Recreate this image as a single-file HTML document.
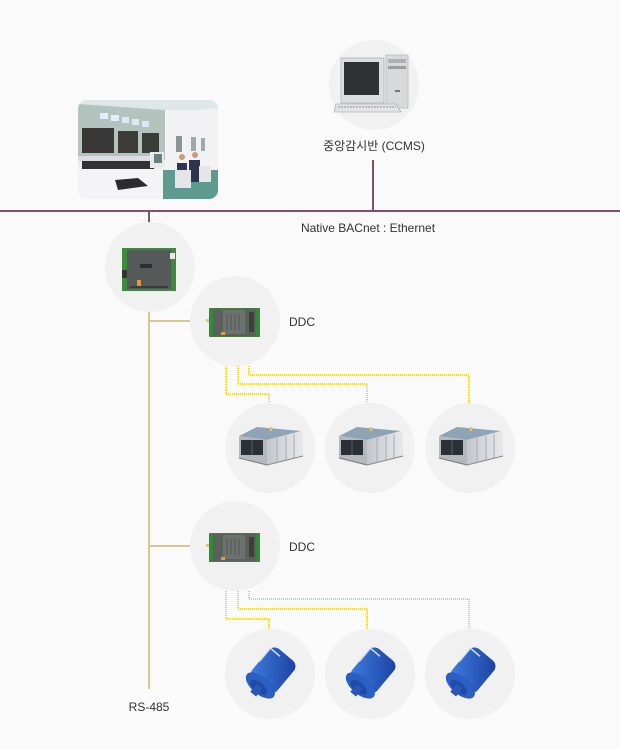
<!DOCTYPE html>
<html><head><meta charset="utf-8"><style>
html,body{margin:0;padding:0;background:#fafafa;}
svg{display:block;}
text{font-family:"Liberation Sans","Noto Sans CJK KR",sans-serif;font-size:12px;fill:#333;}
</style></head><body>
<svg width="620" height="750" viewBox="0 0 620 750" xmlns="http://www.w3.org/2000/svg">
<rect width="620" height="750" fill="#fafafa"/>
<defs>
<linearGradient id="sil" x1="0" y1="0" x2="1" y2="0"><stop offset="0" stop-color="#c4c8cd"/><stop offset="1" stop-color="#e6e8eb"/></linearGradient>
<linearGradient id="blu" x1="0" y1="0" x2="1" y2="1"><stop offset="0" stop-color="#3f7fe0"/><stop offset="1" stop-color="#1a3fa0"/></linearGradient>
<clipPath id="ph"><rect x="78" y="100" width="140" height="99" rx="9"/></clipPath>

<g id="ahu">
<polygon points="-32,-8 -14,-17 30,-13 -4,-4" fill="#8ea3b6"/>
<polygon points="-32,-8 -4,-4 -4,21 -32,14" fill="#b4b9be"/>
<rect x="-30" y="-4" width="22" height="15" fill="#2a3035"/>
<line x1="-19" y1="-4" x2="-19" y2="11" stroke="#5a6066" stroke-width="1"/>
<polygon points="-4,-4 30,-13 32,-11 32,12 -4,21" fill="url(#sil)"/>
<line x1="6" y1="-6" x2="6" y2="18" stroke="#a9adb2" stroke-width="1"/>
<line x1="15" y1="-8" x2="15" y2="16" stroke="#a9adb2" stroke-width="1"/>
<line x1="23" y1="-10" x2="23" y2="14" stroke="#a9adb2" stroke-width="1"/>
<line x1="-32" y1="14" x2="-4" y2="21" stroke="#777" stroke-width="1"/>
<line x1="-4" y1="21" x2="32" y2="12" stroke="#888" stroke-width="1"/>
<rect x="-1" y="-17" width="2" height="4" fill="#e8c64a"/>
</g>

<g id="mot">
<g transform="rotate(-50) scale(1.25)">
<rect x="-12" y="-13" width="32" height="26" rx="6" fill="url(#blu)"/>
<ellipse cx="-12" cy="0" rx="7" ry="14" fill="#2b5fc4"/>
<ellipse cx="-14" cy="0" rx="4" ry="8" fill="#1f4aa8"/>
<rect x="-21" y="-3" width="8" height="6" fill="#2a56b8"/>
<path d="M2,-13 L16,-13 L16,-3" stroke="#d7dde6" stroke-width="1.2" fill="none"/>
</g>
</g>

<g id="ddc">
<rect x="0" y="0" width="51" height="29" rx="1" fill="#4a7a3e"/>
<rect x="4" y="1" width="43" height="27" fill="#5a605c"/>
<rect x="14" y="2" width="22" height="24" fill="#6c726e"/>
<line x1="18" y1="6" x2="18" y2="22" stroke="#555" stroke-width="1"/>
<line x1="22" y1="6" x2="22" y2="22" stroke="#555" stroke-width="1"/>
<line x1="26" y1="6" x2="26" y2="22" stroke="#555" stroke-width="1"/>
<line x1="30" y1="6" x2="30" y2="22" stroke="#555" stroke-width="1"/>
<rect x="0" y="2" width="4" height="25" fill="#2f8a3a"/>
<rect x="47" y="2" width="4" height="25" fill="#2f8a3a"/>
<rect x="40" y="4" width="5" height="20" fill="#3c3f3d"/>
<rect x="12" y="24" width="4" height="3" fill="#e0a040"/>
</g>
</defs>

<!-- Ethernet lines -->
<line x1="0" y1="211" x2="620" y2="211" stroke="#8a4c6e" stroke-width="2"/>
<line x1="373" y1="160" x2="373" y2="211" stroke="#8a4c6e" stroke-width="2"/>
<line x1="149" y1="211" x2="149" y2="223" stroke="#8a4c6e" stroke-width="2"/>

<!-- RS-485 lines -->
<line x1="149" y1="312" x2="149" y2="689" stroke="#d5c891" stroke-width="2"/>
<line x1="149" y1="321" x2="191" y2="321" stroke="#d5c891" stroke-width="2"/>
<line x1="149" y1="546" x2="191" y2="546" stroke="#d5c891" stroke-width="2"/>

<!-- yellow dotted -->
<g fill="none" stroke="#f5d232" stroke-width="2" stroke-dasharray="1 1">
<polyline points="226,366 226,394 269,394 269,404"/>
<polyline points="238,366 238,384 367,384 367,404"/>
<polyline points="249,366 249,375 469,375 469,404"/>
<polyline points="226,591 226,619 269,619 269,629"/>
<polyline points="238,591 238,609 367,609 367,629"/>
<polyline points="249,591 249,599 469,599 469,629"/>
</g>

<!-- circles -->
<g fill="#f1f1f1">
<circle cx="374" cy="85" r="45"/>
<circle cx="150" cy="267" r="45"/>
<circle cx="235" cy="321" r="45"/>
<circle cx="270" cy="448" r="45"/>
<circle cx="370" cy="448" r="45"/>
<circle cx="470" cy="448" r="45"/>
<circle cx="235" cy="546" r="45"/>
<circle cx="270" cy="674" r="45"/>
<circle cx="370" cy="674" r="45"/>
<circle cx="470" cy="674" r="45"/>
</g>

<!-- computer -->
<rect x="386" y="55" width="22" height="53" fill="#d8d9db" stroke="#b9babd" stroke-width="0.8"/>
<rect x="388" y="59" width="18" height="4" fill="#aeb0b3"/>
<rect x="388" y="66" width="18" height="3" fill="#9a9c9f"/>
<rect x="395" y="90" width="5" height="2" fill="#777"/>
<rect x="341" y="58" width="43" height="45" fill="#dcdde0" stroke="#b0b2b5" stroke-width="0.8"/>
<rect x="344" y="62" width="35" height="33" fill="#2f3133"/>
<polygon points="353,103 373,103 378,108 348,108" fill="#c7c8cb"/>
<polygon points="336,104 396,104 401,112 334,112" fill="#e3e3e5" stroke="#9d9fa2" stroke-width="0.6"/>
<line x1="338" y1="107" x2="396" y2="107" stroke="#8d8f92" stroke-width="1" stroke-dasharray="2 1"/>

<!-- control room photo -->
<g clip-path="url(#ph)">
<rect x="78" y="100" width="140" height="99" fill="#eceef0"/>
<polygon points="78,100 218,100 218,108 170,112 78,104" fill="#dfe6e6"/>
<polygon points="78,104 165,110 165,160 78,158" fill="#b3c4be"/>
<rect x="165" y="110" width="53" height="60" fill="#f2f2f4"/>
<rect x="100" y="113" width="8" height="6" fill="#e4eef8"/>
<rect x="111" y="115" width="8" height="6" fill="#e4eef8"/>
<rect x="122" y="117" width="7" height="6" fill="#dbe8f6"/>
<rect x="132" y="119" width="7" height="6" fill="#dbe8f6"/>
<rect x="142" y="121" width="7" height="6" fill="#dbe8f6"/>
<rect x="82" y="128" width="32" height="25" fill="#3a3836"/>
<rect x="118" y="131" width="20" height="22" fill="#3c3d39"/>
<rect x="142" y="133" width="17" height="20" fill="#3a3c38"/>
<rect x="176" y="136" width="6" height="16" fill="#8a9593"/>
<rect x="191" y="137" width="5" height="14" fill="#a0aaa8"/>
<rect x="201" y="138" width="4" height="13" fill="#a0aaa8"/>
<rect x="78" y="156" width="82" height="5" fill="#dcdde0"/>
<rect x="82" y="161" width="72" height="8" fill="#333336"/>
<rect x="160" y="170" width="58" height="29" fill="#5f9a90"/>
<rect x="78" y="169" width="85" height="30" fill="#f4f4f6"/>
<polygon points="115,180 138,178 148,186 118,190" fill="#2c2c2e"/>
<rect x="150" y="152" width="14" height="16" fill="#e8eaec"/>
<rect x="154" y="154" width="8" height="9" fill="#6b7f80"/>
<rect x="189" y="160" width="11" height="22" fill="#2c3550"/>
<circle cx="195" cy="155" r="3" fill="#c99a82"/>
<rect x="177" y="163" width="10" height="20" fill="#2d3555"/>
<circle cx="182" cy="157" r="3" fill="#c99a82"/>
<rect x="175" y="170" width="16" height="18" fill="#e6e6e8"/>
<rect x="199" y="166" width="12" height="16" fill="#e6e6e8"/>
</g>

<!-- gateway board -->
<rect x="122" y="248" width="54" height="43" fill="#3f8b3e"/>
<rect x="127" y="250" width="44" height="39" fill="#55595a"/>
<rect x="140" y="264" width="12" height="4" fill="#2e3030"/>
<rect x="170" y="253" width="5" height="6" fill="#e9e7df"/>
<rect x="137" y="280" width="4" height="6" fill="#e59a3a"/>
<rect x="122" y="270" width="5" height="8" fill="#333"/>
<rect x="130" y="286" width="38" height="2" fill="#3a3c3c"/>

<!-- DDC boards -->
<use href="#ddc" x="209" y="308"/>
<rect x="206" y="319" width="3" height="3" fill="#d5c891"/>
<use href="#ddc" x="209" y="533"/>
<rect x="206" y="544" width="3" height="3" fill="#d5c891"/>

<!-- AHUs -->
<use href="#ahu" x="271" y="444"/>
<use href="#ahu" x="371" y="444"/>
<use href="#ahu" x="471" y="444"/>

<!-- Motors -->
<use href="#mot" x="270" y="674"/>
<use href="#mot" x="370" y="674"/>
<use href="#mot" x="470" y="674"/>

<!-- labels -->
<text x="374" y="150" text-anchor="middle" font-size="12">중앙감시반 (CCMS)</text>
<text x="368" y="232" text-anchor="middle">Native BACnet : Ethernet</text>
<text x="289" y="326">DDC</text>
<text x="289" y="551">DDC</text>
<text x="149" y="711" text-anchor="middle">RS-485</text>
</svg>
</body></html>
